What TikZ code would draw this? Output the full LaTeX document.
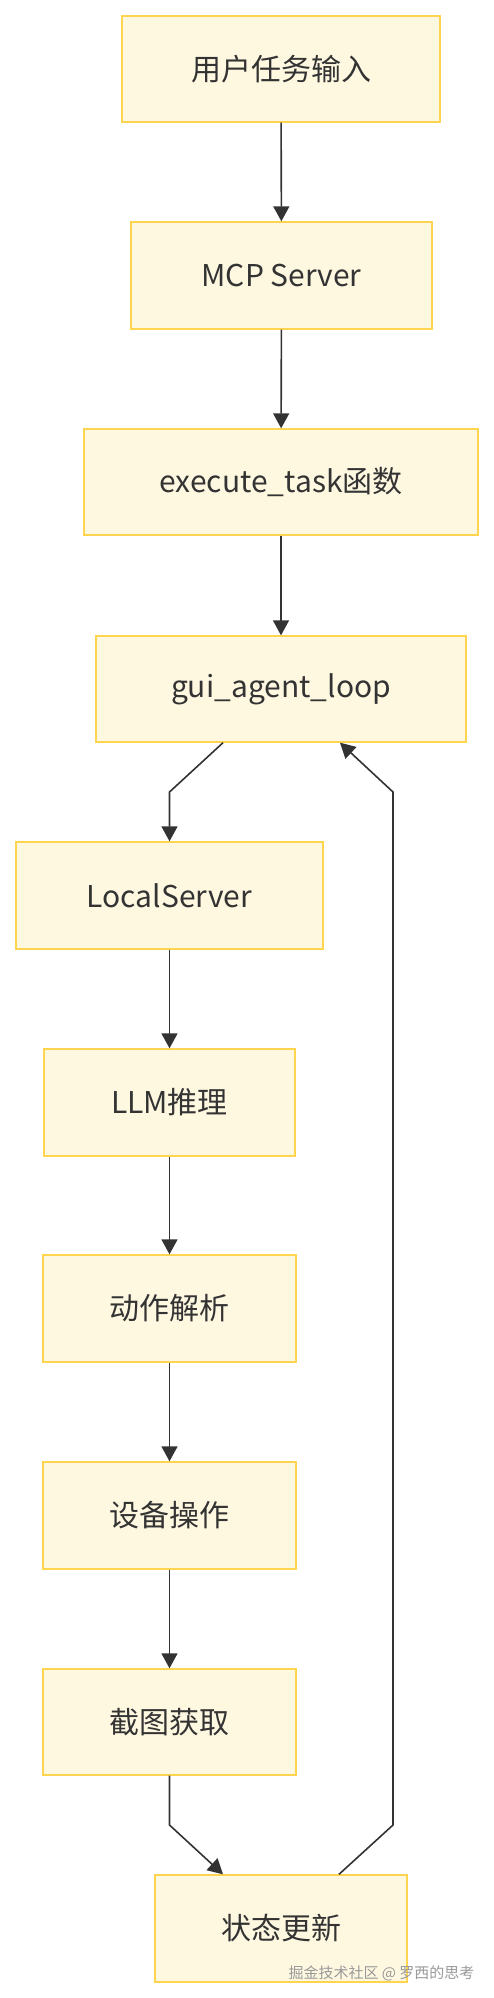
\documentclass[tikz,border=0pt]{standalone}
\usepackage{fontspec}
\setmainfont{Noto Sans CJK SC}
\usetikzlibrary{arrows.meta}
\definecolor{boxfill}{HTML}{FFF8E1}
\definecolor{boxline}{HTML}{FFD54F}
\definecolor{txt}{HTML}{333333}
\definecolor{edge}{HTML}{333333}
\tikzset{
  flowbox/.style={draw=boxline, fill=boxfill, line width=1.4pt, inner sep=0pt,
    text=txt, font=\fontsize{30}{36}\selectfont, anchor=center},
  arr/.style={draw=edge, line width=1.6pt, -{Triangle[length=15pt,width=16pt]}},
  wmark/.style={text=gray!80, font=\fontsize{15}{18}\selectfont, anchor=east}
}
\begin{document}
\begin{tikzpicture}[x=1pt,y=-1pt]
\useasboundingbox (0,0) rectangle (494,1998);
\node[flowbox, minimum width=318pt, minimum height=106pt] (in) at (281,69) {用户任务输入};
\node[flowbox, minimum width=301pt, minimum height=107pt] (mcp) at (281.5,275.5) {MCP Server};
\node[flowbox, minimum width=394pt, minimum height=106pt] (ex) at (281,482) {execute\_task函数};
\node[flowbox, minimum width=370pt, minimum height=106pt] (gui) at (281,689) {gui\_agent\_loop};
\node[flowbox, minimum width=307pt, minimum height=107pt] (ls) at (169.5,895.5) {LocalServer};
\node[flowbox, minimum width=251pt, minimum height=107pt] (llm) at (169.5,1102.5) {LLM推理};
\node[flowbox, minimum width=253pt, minimum height=107pt] (act) at (169.5,1308.5) {动作解析};
\node[flowbox, minimum width=253pt, minimum height=107pt] (dev) at (169.5,1515.5) {设备操作};
\node[flowbox, minimum width=253pt, minimum height=106pt] (shot) at (169.5,1722) {截图获取};
\node[flowbox, minimum width=252pt, minimum height=107pt] (st) at (281,1928.5) {状态更新};
\coordinate (c1) at (169.5,792);
\coordinate (c2) at (169.5,1825);
\coordinate (c3) at (393,1825);
\coordinate (c4) at (393,792);
\draw[arr] (in) -- (mcp);
\draw[arr] (mcp) -- (ex);
\draw[arr] (ex) -- (gui);
\draw[arr] ([xshift=-58pt]gui.south) -- (c1) -- (ls.north);
\draw[arr] (ls) -- (llm);
\draw[arr] (llm) -- (act);
\draw[arr] (act) -- (dev);
\draw[arr] (dev) -- (shot);
\draw[arr] (shot.south) -- (c2) -- ([xshift=-58pt]st.north);
\draw[arr] ([xshift=58pt]st.north) -- (c3) -- (c4) -- ([xshift=59pt]gui.south);
\node[wmark] (wm) at (478,1973) {掘金技术社区 @ 罗西的思考};
\end{tikzpicture}
\end{document}
